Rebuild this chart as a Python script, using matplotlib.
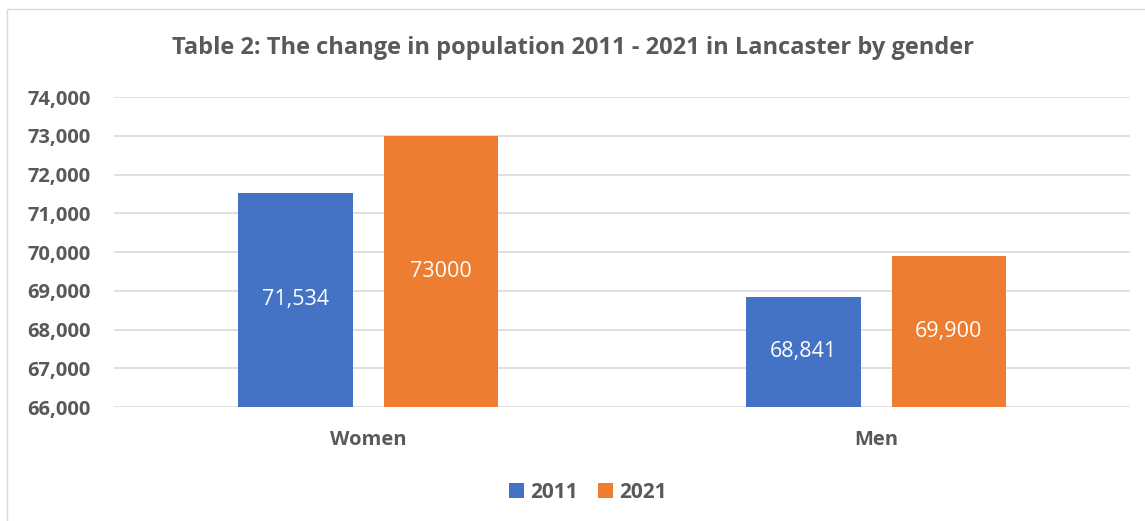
import matplotlib.pyplot as plt
from matplotlib.patches import Rectangle
import numpy as np

plt.rcParams['font.family'] = ['Open Sans', 'DejaVu Sans']

# Population by gender, census years
groups = ['Women', 'Men']
years = ['2011', '2021']
pop_2011 = [71534, 68841]
pop_2021 = [73000, 69900]
labels_2011 = ['71,534', '68,841']
labels_2021 = ['73000', '69,900']
yticks = [66000, 67000, 68000, 69000, 70000, 71000, 72000, 73000, 74000]

blue = '#4472C4'
orange = '#ED7D31'
grey_text = '#595959'
grid_col = '#D9D9D9'

fig = plt.figure(figsize=(11.45, 5.21), dpi=100)
ax = fig.add_axes([0.0996, 0.2188, 0.8873, 0.595])

# outer chart frame
fig.patches.append(Rectangle((7 / 1145, -0.1), 1.2, 1 - 9 / 521 + 0.1,
                             transform=fig.transFigure, fill=False,
                             edgecolor=grid_col, linewidth=1.0))

x = np.arange(len(groups))
width = 0.225
offset = 0.143
base = yticks[0]

b1 = ax.bar(x - offset, np.array(pop_2011) - base, width, bottom=base,
            color=blue, label=years[0], zorder=3)
b2 = ax.bar(x + offset, np.array(pop_2021) - base, width, bottom=base,
            color=orange, label=years[1], zorder=3)

for bars, vals, labs in [(b1, pop_2011, labels_2011), (b2, pop_2021, labels_2021)]:
    for rect, v, lab in zip(bars, vals, labs):
        ax.text(rect.get_x() + rect.get_width() / 2, (base + v) / 2, lab,
                ha='center', va='center', color='white', fontsize=15.5, zorder=4)

ax.set_xlim(-0.5, 1.5)
ax.set_ylim(yticks[0], yticks[-1])
ax.set_yticks(yticks)
ax.set_yticklabels([f'{t:,}' for t in yticks])
ax.set_xticks(x)
ax.set_xticklabels(groups)
ax.tick_params(axis='both', length=0, labelsize=14.5, labelcolor=grey_text)
ax.tick_params(axis='y', pad=17)
ax.tick_params(axis='x', pad=16.5)
for lab in ax.get_xticklabels() + ax.get_yticklabels():
    lab.set_fontweight('bold')

ax.grid(axis='y', color=grid_col, linewidth=1.2, zorder=0)
for s in ax.spines.values():
    s.set_visible(False)

fig.text(0.5, 0.908, 'Table 2: The change in population 2011 - 2021 in Lancaster by gender',
         ha='center', va='center', fontsize=17, fontweight='bold', color=grey_text)

leg = fig.legend(loc='center', bbox_to_anchor=(588 / 1145, 1 - 492 / 521), ncol=2,
                 frameon=False, fontsize=15, handlelength=0.7, handleheight=0.7,
                 handletextpad=0.3, columnspacing=1.0)
for t in leg.get_texts():
    t.set_fontweight('bold')
    t.set_color(grey_text)

fig.savefig('out.png', dpi=100)
